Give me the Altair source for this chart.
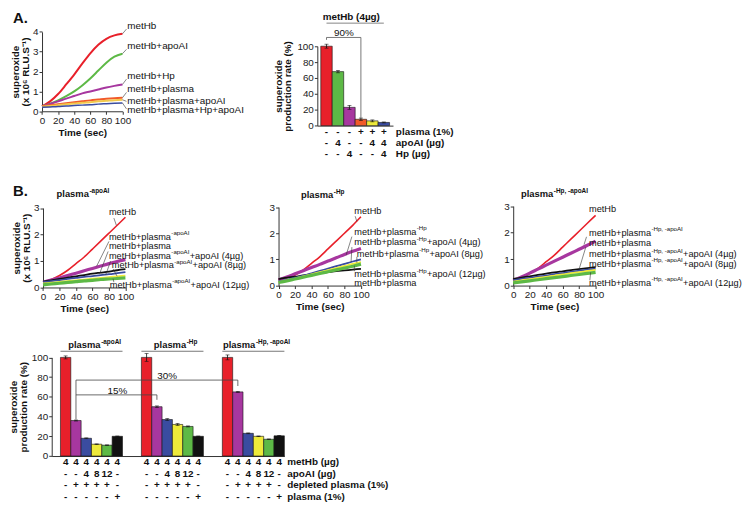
import altair as alt
import pandas as pd

FONT = "Liberation Sans"
W, H = 732, 492


def px(x):
    return round((x - 3) * 0.98, 1)


def py(y):
    return round((y - 5) * 0.968, 1)


REG = {' ': 278, '+': 584, '-': 333, '(': 333, ')': 333, ',': 278, '1': 556, '2': 556,
       '4': 556, '8': 556, '\u00b5': 577, 'A': 667, 'H': 722, 'I': 278, 'a': 556, 'b': 556,
       'e': 556, 'g': 556, 'l': 222, 'm': 833, 'o': 556, 'p': 556, 's': 500, 't': 278}
BOLD = {' ': 278, '-': 333, ',': 278, 'A': 722, 'H': 722, 'I': 278, 'a': 556, 'l': 278,
        'm': 889, 'o': 611, 'p': 611, 's': 556}


def tw(s, size, bold=False):
    tab = BOLD if bold else REG
    return sum(tab.get(c, 556) for c in s) * size / 1000.0


RED = "#E8202A"
GREEN = "#5DB946"
PURPLE = "#A7379F"
ORANGE = "#F15A29"
PALE = "#F2C94C"
YELLOW = "#EEEA3A"
BLUE = "#3A4CA0"
BLACK = "#111111"
AX = "#333333"

t = [0, 10, 20, 30, 40, 50, 60, 70, 80, 90, 100]

# ---------------- Panel A : kinetics ----------------
a_names = ["metHb", "metHb+apoAI", "metHb+Hp", "metHb+plasma",
           "metHb+plasma+apoAI", "metHb+plasma+Hp+apoAI"]
a_metHb = [0.25, 0.5, 0.87, 1.35, 1.85, 2.4, 2.92, 3.35, 3.65, 3.82, 3.9]
a_apoAI = [0.25, 0.38, 0.55, 0.76, 1.0, 1.3, 1.65, 2.05, 2.45, 2.75, 2.9]
a_Hp = [0.25, 0.37, 0.5, 0.64, 0.77, 0.9, 1.0, 1.1, 1.2, 1.28, 1.35]
a_plasma = [0.25, 0.3, 0.35, 0.4, 0.45, 0.5, 0.55, 0.59, 0.63, 0.66, 0.68]
a_plasma_apoAI = [0.23, 0.27, 0.31, 0.35, 0.39, 0.43, 0.46, 0.5, 0.53, 0.56, 0.58]
a_plasma_Hp_apoAI = [0.2, 0.22, 0.24, 0.27, 0.29, 0.31, 0.33, 0.36, 0.38, 0.4, 0.42]
a_label_x = [106, 106, 106, 106, 106, 106]
a_label_y = [4.29, 3.28, 1.78, 1.11, 0.53, 0.05]
a_leads = [[100, 3.9, 105, 4.14], [100, 2.9, 105, 3.12], [100, 1.35, 105, 1.62],
           [100, 0.68, 105, 0.95], [100, 0.58, 105, 0.5], [100, 0.42, 105, 0.12]]

# ---------------- Panel A : bar chart ----------------
bar_a_cats = ["c0", "c1", "c2", "c3", "c4", "c5"]
bar_a_colors = [RED, GREEN, PURPLE, ORANGE, YELLOW, BLUE]
bar_a_vals = [100, 68, 23, 8, 6, 4]
bar_a_err = [2.5, 1.5, 2.5, 1.5, 1.2, 0.6]
bar_a_plasma = ["-", "-", "-", "+", "+", "+"]
bar_a_apoAI = ["-", "4", "-", "-", "4", "4"]
bar_a_Hp = ["-", "-", "4", "-", "-", "4"]

# ---------------- Panel B : kinetics ----------------
SUP_APO = "-apoAI"
SUP_HP = "-Hp"
SUP_BOTH = "-Hp, -apoAI"
PRE = "metHb+plasma"

b1_metHb = [0.2, 0.3, 0.45, 0.65, 0.9, 1.15, 1.45, 1.75, 2.05, 2.35, 2.65]
b1_depleted = [0.2, 0.28, 0.36, 0.45, 0.54, 0.63, 0.72, 0.81, 0.9, 0.98, 1.05]
b1_plasma = [0.22, 0.27, 0.32, 0.37, 0.42, 0.47, 0.52, 0.56, 0.6, 0.65, 0.69]
b1_apo4 = [0.2, 0.24, 0.28, 0.32, 0.36, 0.4, 0.43, 0.47, 0.5, 0.54, 0.58]
b1_apo8 = [0.15, 0.18, 0.21, 0.24, 0.27, 0.3, 0.33, 0.36, 0.39, 0.42, 0.45]
b1_apo12 = [0.1, 0.13, 0.16, 0.19, 0.22, 0.25, 0.27, 0.3, 0.32, 0.34, 0.36]
b1_pre = ["metHb", PRE, PRE, PRE, PRE, PRE]
b1_sup = ["", SUP_APO, "", SUP_APO, SUP_APO, SUP_APO]
b1_post = ["", "", "", "+apoAI (4\u00b5g)", "+apoAI (8\u00b5g)", "+apoAI (12\u00b5g)"]
b1_label_x = [80, 80, 80, 80, 83.5, 81]
b1_label_y = [2.85, 1.91, 1.55, 1.19, 0.83, 0.11]
b1_leads = [[86, 2.62, 89, 2.35], [80, 1.74, 65, 0.8], [79, 1.36, 69, 0.55],
            [82, 0.99, 76, 0.47], [85, 0.7, 90, 0.42], [86, 0.2, 85, 0.33]]

b2_metHb = [0.25, 0.3, 0.4, 0.6, 0.85, 1.1, 1.4, 1.7, 2.0, 2.3, 2.63]
b2_depleted = [0.22, 0.33, 0.45, 0.57, 0.69, 0.81, 0.94, 1.06, 1.19, 1.31, 1.42]
b2_plasma = [0.25, 0.3, 0.34, 0.39, 0.43, 0.47, 0.51, 0.55, 0.58, 0.61, 0.64]
b2_apo4 = [0.15, 0.22, 0.3, 0.38, 0.47, 0.56, 0.65, 0.74, 0.83, 0.92, 1.0]
b2_apo8 = [0.13, 0.2, 0.27, 0.35, 0.43, 0.51, 0.59, 0.67, 0.75, 0.83, 0.9]
b2_apo12 = [0.12, 0.18, 0.25, 0.32, 0.39, 0.46, 0.53, 0.6, 0.67, 0.74, 0.82]
b2_pre = ["metHb", PRE, PRE, PRE, PRE, PRE]
b2_sup = ["", SUP_HP, SUP_HP, SUP_HP, SUP_HP, ""]
b2_post = ["", "", "+apoAI (4\u00b5g)", "+apoAI (8\u00b5g)", "+apoAI (12\u00b5g)", ""]
b2_label_x = [92, 92, 92, 95, 92, 92]
b2_label_y = [2.86, 2.05, 1.65, 1.21, 0.44, 0.11]
b2_leads = [[93, 2.65, 95, 2.45], [89, 1.87, 82, 1.16], [89, 1.47, 88, 0.9],
            [95, 1.1, 95, 0.88], [92, 0.55, 92, 0.76]]

b3_metHb = [0.2, 0.3, 0.45, 0.65, 0.9, 1.15, 1.45, 1.75, 2.05, 2.35, 2.65]
b3_depleted = [0.2, 0.33, 0.47, 0.62, 0.77, 0.92, 1.07, 1.22, 1.37, 1.52, 1.68]
b3_plasma = [0.25, 0.3, 0.35, 0.4, 0.45, 0.5, 0.54, 0.58, 0.62, 0.66, 0.7]
b3_apo4 = [0.2, 0.25, 0.29, 0.34, 0.38, 0.43, 0.47, 0.52, 0.56, 0.6, 0.64]
b3_apo8 = [0.15, 0.2, 0.24, 0.29, 0.33, 0.38, 0.42, 0.47, 0.51, 0.55, 0.59]
b3_apo12 = [0.1, 0.14, 0.18, 0.22, 0.26, 0.3, 0.34, 0.38, 0.42, 0.46, 0.5]
b3_pre = ["metHb", PRE, PRE, PRE, PRE, PRE]
b3_sup = ["", SUP_BOTH, "", SUP_BOTH, SUP_BOTH, SUP_BOTH]
b3_post = ["", "", "", "+apoAI (4\u00b5g)", "+apoAI (8\u00b5g)", "+apoAI (12\u00b5g)"]
b3_label_x = [92, 92, 92, 92, 92, 92]
b3_label_y = [2.89, 1.99, 1.62, 1.19, 0.83, 0.11]
b3_leads = [[89, 1.84, 86, 1.55], [88, 1.44, 80, 0.62], [93, 0.2, 94, 0.5]]

# ---------------- Panel B : bar chart ----------------
group_keys = ["g1", "g2", "g3"]
group_sups = [SUP_APO, SUP_HP, SUP_BOTH]
bar_keys = ["k0", "k1", "k2", "k3", "k4", "k5"]
bar_c_colors = [RED, PURPLE, BLUE, YELLOW, GREEN, BLACK]
g1_vals = [100, 36, 18, 12, 11, 20]
g2_vals = [100, 50, 37, 32, 30, 20]
g3_vals = [100, 65, 23, 20, 17, 20.5]
g1_err = [1.5, 0.5, 0.4, 0.3, 0.3, 0.3]
g2_err = [4, 0.8, 1.0, 1.0, 0.5, 0.3]
g3_err = [2.5, 0.5, 0.4, 0.3, 0.3, 0.3]
row_metHb = ["4", "4", "4", "4", "4", "4"]
row_apoAI = ["-", "-", "4", "8", "12", "-"]
row_depleted = ["-", "+", "+", "+", "+", "-"]
row_plasma = ["-", "-", "-", "-", "-", "+"]

YT_LINE = ["superoxide", "(x 10\u2076 RLU.S\u207B\u00b9)"]
YT_BAR = ["superoxide", "production rate (%)"]


# =====================================================
def txt(df, **kw):
    base = dict(font=FONT, fontSize=10, color="#111")
    base.update(kw)
    return alt.Chart(df).mark_text(**base)


def one():
    return pd.DataFrame({"a": [0]})


def sup_title(x, y, sup, size=9.5, supsize=6.5):
    w = tw("plasma", size, True)
    return [
        txt(one(), fontSize=size, fontWeight="bold", align="left", baseline="alphabetic").encode(
            x=alt.value(x), y=alt.value(y), text=alt.value("plasma")),
        txt(one(), fontSize=supsize, fontWeight="bold", align="left", baseline="alphabetic",
            dx=w + 0.5, dy=-4).encode(x=alt.value(x), y=alt.value(y), text=alt.value(sup)),
    ]


def line_panel(series, colors, widths, pre, sup, post, lab_x, lab_y, leads,
               ymax, xr, yr, ytitle, fs, supfs, extras):
    rows = []
    for k, vs in enumerate(series):
        for x, v in zip(t, vs):
            rows.append({"t": x, "v": v, "k": k})
    df = pd.DataFrame(rows)
    xs = alt.Scale(domain=[0, 100], range=[px(xr[0]), px(xr[1])], nice=False)
    ys = alt.Scale(domain=[0, ymax], range=[py(yr[0]), py(yr[1])], nice=False)
    xax = alt.Axis(orient="bottom", offset=py(yr[0]) - H, values=[0, 20, 40, 60, 80, 100],
                   title="Time (sec)", labelFlush=False, labelOverlap=False, titlePadding=2)
    if ytitle:
        yax = alt.Axis(orient="left", offset=-px(xr[0]), values=list(range(ymax + 1)),
                       title=ytitle, titlePadding=2, titleLineHeight=10, labelOverlap=False)
    else:
        yax = alt.Axis(orient="left", offset=-px(xr[0]), values=list(range(ymax + 1)),
                       title=None, labelOverlap=False)
    X = lambda f: alt.X(f, scale=xs, axis=xax)
    Y = lambda f: alt.Y(f, scale=ys, axis=yax)
    layers = []
    for k in range(len(series)):
        layers.append(
            alt.Chart(df[df.k == k]).mark_line(interpolate="monotone", color=colors[k],
                                                 strokeWidth=widths[k]).encode(
                x=X("t:Q"), y=Y("v:Q")))
    ldf = pd.DataFrame(leads, columns=["x", "y", "x2", "y2"])
    layers.append(alt.Chart(ldf).mark_rule(color=AX, strokeWidth=0.6).encode(
        x=X("x:Q"), y=Y("y:Q"), x2="x2:Q", y2="y2:Q"))
    tdf = pd.DataFrame({"x": lab_x, "y": lab_y, "pre": pre, "sup": sup, "post": post})
    layers.append(txt(tdf, fontSize=fs, align="left", baseline="middle").encode(
        x=X("x:Q"), y=Y("y:Q"), text="pre:N"))
    sdf = tdf[tdf["sup"] != ""]
    if len(sdf):
        wpre = tw(PRE, fs)
        wsup = tw(sdf["sup"].iloc[0], supfs)
        layers.append(txt(sdf, fontSize=supfs, align="left", baseline="middle",
                          dx=wpre + 0.3, dy=-3.5).encode(x=X("x:Q"), y=Y("y:Q"), text="sup:N"))
        pdf = tdf[tdf["post"] != ""]
        if len(pdf):
            layers.append(txt(pdf, fontSize=fs, align="left", baseline="middle",
                              dx=wpre + wsup + 0.6).encode(x=X("x:Q"), y=Y("y:Q"), text="post:N"))
    layers += extras
    return alt.layer(*layers)


# ---- Panel A line
lineA = line_panel(
    [a_metHb, a_apoAI, a_Hp, a_plasma, a_plasma_apoAI, a_plasma_Hp_apoAI],
    [RED, GREEN, PURPLE, ORANGE, PALE, BLUE], [2, 2, 2, 2, 2, 1.5],
    a_names, [""] * 6, [""] * 6, a_label_x, a_label_y, a_leads,
    4, (33, 116), (108, 25), YT_LINE, 10, 6.5,
    [txt(one(), fontSize=15, fontWeight="bold", align="left", baseline="alphabetic").encode(
        x=alt.value(px(3)), y=alt.value(py(16)), text=alt.value("A."))])

# ---- Panel A bar
xsA = alt.Scale(domain=bar_a_cats, range=[px(317), px(395)], paddingInner=0, paddingOuter=0.3)
xaxA = alt.Axis(orient="bottom", offset=py(123) - H, labels=False, ticks=False, title=None)
ysA = alt.Scale(domain=[0, 100], range=[py(123), py(40)], nice=False)
yaxA = alt.Axis(orient="left", offset=-px(317), values=[0, 20, 40, 60, 80, 100], title=YT_BAR,
                titlePadding=4, titleLineHeight=10)
XA = lambda f: alt.X(f, scale=xsA, axis=xaxA)
YA = lambda f: alt.Y(f, scale=ysA, axis=yaxA)
dfA = pd.DataFrame({"c": bar_a_cats, "v": bar_a_vals, "col": bar_a_colors,
                    "lo": [v - e for v, e in zip(bar_a_vals, bar_a_err)],
                    "hi": [v + e for v, e in zip(bar_a_vals, bar_a_err)]})
a_layers = [
    alt.Chart(dfA).mark_bar(stroke="#111", strokeWidth=0.6).encode(
        x=XA("c:N"), y=YA("v:Q"), color=alt.Color("col:N", scale=None)),
    alt.Chart(dfA).mark_rule(color="#111", strokeWidth=0.8).encode(x=XA("c:N"), y=YA("lo:Q"), y2="hi:Q"),
    alt.Chart(dfA).mark_tick(color="#111", size=4, thickness=0.8).encode(x=XA("c:N"), y=YA("lo:Q")),
    alt.Chart(dfA).mark_tick(color="#111", size=4, thickness=0.8).encode(x=XA("c:N"), y=YA("hi:Q")),
]
for vals, lab, yp in [(bar_a_plasma, "plasma (1%)", 130), (bar_a_apoAI, "apoAI (\u00b5g)", 141.5),
                      (bar_a_Hp, "Hp (\u00b5g)", 153)]:
    a_layers.append(txt(pd.DataFrame({"c": bar_a_cats, "s": vals}), fontWeight="bold",
                        baseline="middle").encode(x=XA("c:N"), y=alt.value(py(yp)), text="s:N"))
    a_layers.append(txt(one(), fontWeight="bold", align="left", baseline="middle").encode(
        x=alt.value(px(398)), y=alt.value(py(yp)), text=alt.value(lab)))
a_layers.append(txt(one(), fontWeight="bold", baseline="alphabetic").encode(
    x=alt.value(px(352)), y=alt.value(py(12.5)), text=alt.value("metHb (4\u00b5g)")))
a_layers.append(alt.Chart(pd.DataFrame({"c": ["c0", "c5"]})).mark_line(color="#666", strokeWidth=0.8).encode(
    x=XA("c:N"), y=alt.value(py(16))))
a_layers.append(alt.Chart(pd.DataFrame({"c": ["c0", "c0", "c3", "c3"], "v": [108, 111, 111, 9],
                                        "o": [0, 1, 2, 3]})).mark_line(color="#555", strokeWidth=0.8).encode(
    x=XA("c:N"), y=YA("v:Q"), order="o:Q"))
a_layers.append(txt(pd.DataFrame({"c": ["c1"], "v": [117], "s": ["90%"]}), baseline="middle", dx=6).encode(
    x=XA("c:N"), y=YA("v:Q"), text="s:N"))
barA = alt.layer(*a_layers)

# ---- Panel B lines
b_cols = [RED, PURPLE, BLACK, BLUE, YELLOW, GREEN]
b_w = [1.6, 3.2, 1.8, 1.8, 1.8, 3.2]
B1 = line_panel([b1_metHb, b1_depleted, b1_plasma, b1_apo4, b1_apo8, b1_apo12],
                b_cols, b_w, b1_pre, b1_sup, b1_post, b1_label_x, b1_label_y, b1_leads,
                3, (34, 119), (292, 209), YT_LINE, 9.3, 6.2,
                [txt(one(), fontSize=15, fontWeight="bold", align="left", baseline="alphabetic").encode(
                    x=alt.value(px(3)), y=alt.value(py(196)), text=alt.value("B."))]
                + sup_title(px(48), py(198), SUP_APO))
B2 = line_panel([b2_metHb, b2_depleted, b2_plasma, b2_apo4, b2_apo8, b2_apo12],
                b_cols, b_w, b2_pre, b2_sup, b2_post, b2_label_x, b2_label_y, b2_leads,
                3, (277, 362), (290, 208), None, 9.3, 6.2,
                sup_title(px(300), py(199), SUP_HP))
B3 = line_panel([b3_metHb, b3_depleted, b3_plasma, b3_apo4, b3_apo8, b3_apo12],
                b_cols, b_w, b3_pre, b3_sup, b3_post, b3_label_x, b3_label_y, b3_leads,
                3, (519, 604), (290, 207), None, 9.3, 6.2,
                sup_title(px(527), py(198), SUP_BOTH))

# ---- Panel B bar
rows = []
for g, vals, errs in zip(group_keys, [g1_vals, g2_vals, g3_vals], [g1_err, g2_err, g3_err]):
    for k, v, e, c in zip(bar_keys, vals, errs, bar_c_colors):
        rows.append({"g": g, "k": k, "v": v, "lo": v - e, "hi": v + e, "col": c})
dfC = pd.DataFrame(rows)
xsC = alt.Scale(domain=group_keys, range=[px(43), px(283)], paddingInner=0.2335,
                paddingOuter=0.054, align=1)
xaxC = alt.Axis(orient="bottom", offset=py(468) - H, labels=False, ticks=False, title=None)
offC = alt.Scale(domain=bar_keys, range=[0, round(64 * 0.98, 1)], paddingInner=0, paddingOuter=0)
ysC = alt.Scale(domain=[0, 100], range=[py(468), py(365)], nice=False)
yaxC = alt.Axis(orient="left", offset=-px(43), values=[0, 20, 40, 60, 80, 100], title=YT_BAR,
                titlePadding=3, titleLineHeight=10)
XC = lambda: alt.X("g:N", scale=xsC, axis=xaxC)
OC = lambda: alt.XOffset("k:N", scale=offC)
YC = lambda f: alt.Y(f, scale=ysC, axis=yaxC)
c_layers = [
    alt.Chart(dfC).mark_bar(stroke="#111", strokeWidth=0.6).encode(
        x=XC(), xOffset=OC(), y=YC("v:Q"), color=alt.Color("col:N", scale=None)),
    alt.Chart(dfC).mark_rule(color="#111", strokeWidth=0.8).encode(x=XC(), xOffset=OC(), y=YC("lo:Q"), y2="hi:Q"),
    alt.Chart(dfC).mark_tick(color="#111", size=4, thickness=0.8).encode(x=XC(), xOffset=OC(), y=YC("hi:Q")),
    alt.Chart(dfC).mark_tick(color="#111", size=4, thickness=0.8).encode(x=XC(), xOffset=OC(), y=YC("lo:Q")),
]
for vals, lab, yp in [(row_metHb, "metHb (\u00b5g)", 474.5), (row_apoAI, "apoAI (\u00b5g)", 486.5),
                      (row_depleted, "depleted plasma (1%)", 498.5), (row_plasma, "plasma (1%)", 510.5)]:
    rr = [{"g": g, "k": k, "s": s} for g in group_keys for k, s in zip(bar_keys, vals)]
    c_layers.append(txt(pd.DataFrame(rr), fontWeight="bold", baseline="middle").encode(
        x=XC(), xOffset=OC(), y=alt.value(py(yp)), text="s:N"))
    c_layers.append(txt(one(), fontWeight="bold", align="left", baseline="middle").encode(
        x=alt.value(px(286)), y=alt.value(py(yp)), text=alt.value(lab)))
for g, s in zip(group_keys, group_sups):
    wpre = tw("plasma", 9.5, True)
    wsup = tw(s, 6.5, True)
    start = -(wpre + wsup) / 2 + 3
    gdf = pd.DataFrame({"g": [g]})
    c_layers.append(txt(gdf, fontSize=9.5, fontWeight="bold", align="left", baseline="alphabetic",
                        dx=start).encode(x=XC(), y=alt.value(py(355)), text=alt.value("plasma")))
    c_layers.append(txt(gdf, fontSize=6.5, fontWeight="bold", align="left", baseline="alphabetic",
                        dx=start + wpre + 0.5, dy=-4).encode(x=XC(), y=alt.value(py(355)),
                                                            text=alt.value(s)))
c_layers.append(alt.Chart(pd.DataFrame({"g": group_keys})).mark_rect(color="#777").encode(
    x=XC(), y=alt.value(py(358)), y2=alt.value(py(358) + 1)))
br30 = pd.DataFrame({"g": ["g1", "g1", "g3", "g3"], "k": ["k1"] * 4,
                     "v": [37, 77, 77, 71], "o": [0, 1, 2, 3]})
br15 = pd.DataFrame({"g": ["g1", "g2", "g2"], "k": ["k1"] * 3,
                     "v": [62, 62, 57], "o": [0, 1, 2]})
for br in (br30, br15):
    c_layers.append(alt.Chart(br).mark_line(color="#444", strokeWidth=0.8).encode(
        x=XC(), xOffset=OC(), y=YC("v:Q"), order="o:Q"))
c_layers.append(txt(pd.DataFrame({"g": ["g2", "g1"], "k": ["k2", "k5"], "v": [81, 66],
                                  "s": ["30%", "15%"]}), baseline="middle").encode(
    x=XC(), xOffset=OC(), y=YC("v:Q"), text="s:N"))
barC = alt.layer(*c_layers)

chart = alt.layer(lineA, barA, B1, B2, B3, barC).resolve_scale(
    x="independent", y="independent"
).resolve_axis(
    x="independent", y="independent"
).properties(
    width=W, height=H, padding=0
).configure_view(stroke=None).configure_axis(
    labelFont=FONT, labelFontSize=10, labelColor="#222", titleFont=FONT, titleFontSize=10,
    titleFontWeight="bold", titleColor="#111", tickSize=3, tickColor=AX, domainColor=AX,
    grid=False, labelPadding=1
)

chart.save("out.html", embed_options={"renderer": "svg", "actions": False})
